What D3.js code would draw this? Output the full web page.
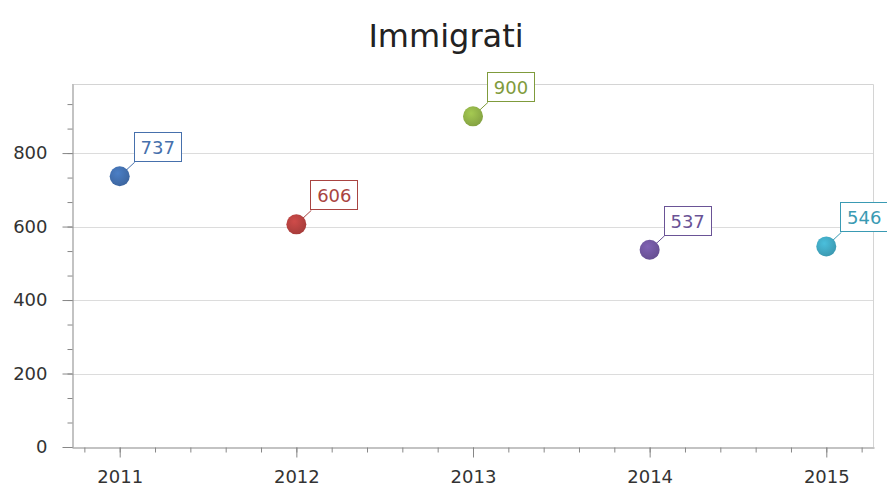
<!DOCTYPE html>
<html>
<head>
<meta charset="utf-8">
<script src="https://cdn.jsdelivr.net/npm/d3@7/dist/d3.min.js"></script>
<style>
  body { margin: 0; background: #fff; }
  svg { display: block; font-family: "DejaVu Sans", sans-serif; }
</style>
</head>
<body>
<div id="chart"></div>
<script>
var title = "Immigrati";
var years = [2011, 2012, 2013, 2014, 2015];
var values = [737, 606, 900, 537, 546];
var colors = ["#3f6aa6", "#ad3f3d", "#8aa945", "#6b5297", "#3ea0b8"];
var labelColors = ["#4670ac", "#a94441", "#7f9b3c", "#6a5396", "#3a9ab3"];
var yTicks = [0, 200, 400, 600, 800];

var width = 887, height = 490;
var pLeft = 72, pRight = 874, pTop = 84, pBottom = 447;

var svg = d3.select("#chart").append("svg")
    .attr("width", width)
    .attr("height", height);

var x = d3.scaleLinear().domain([2010.73, 2015.27]).range([pLeft, pRight]);
var y = d3.scaleLinear().domain([0, 988]).range([pBottom, pTop]);

// gradients for markers
var defs = svg.append("defs");
colors.forEach(function(c, i) {
    var g = defs.append("radialGradient")
        .attr("id", "grad" + i)
        .attr("cx", "40%").attr("cy", "35%").attr("r", "65%");
    g.append("stop").attr("offset", "0%").attr("stop-color", d3.color(c).brighter(0.5));
    g.append("stop").attr("offset", "100%").attr("stop-color", d3.color(c).darker(0.1));
});

// title
svg.append("text")
    .attr("x", 446)
    .attr("y", 47)
    .attr("text-anchor", "middle")
    .style("font-size", "32px")
    .style("fill", "#222")
    .text(title);

// grid
svg.append("g")
    .selectAll("line")
    .data(yTicks.filter(function(d) { return d > 0; }))
    .enter().append("line")
    .attr("x1", pLeft).attr("x2", pRight)
    .attr("y1", function(d) { return Math.round(y(d)) + 0.5; })
    .attr("y2", function(d) { return Math.round(y(d)) + 0.5; })
    .attr("stroke", "#dcdcdc");

// plot border top / right
svg.append("path")
    .attr("d", "M" + pLeft + "," + (pTop + 0.5) + "H" + (pRight - 0.5) + "V" + pBottom)
    .attr("fill", "none")
    .attr("stroke", "#d4d4d4");

// y axis
var yMinor = d3.range(0, 988, 200 / 3);
svg.append("g")
    .attr("transform", "translate(" + (pLeft + 0.5) + ",0)")
    .call(d3.axisLeft(y).tickValues(yMinor).tickSize(5).tickFormat(""))
    .call(function(g) { g.select(".domain").remove(); });
svg.append("g")
    .attr("class", "yaxis")
    .attr("transform", "translate(" + (pLeft + 0.5) + ",0)")
    .call(d3.axisLeft(y).tickValues(yTicks).tickSize(10).tickPadding(15).tickSizeOuter(0));

// x axis
var xMinor = d3.range(2010.8, 2015.27, 0.2);
svg.append("g")
    .attr("transform", "translate(0," + (pBottom + 0.5) + ")")
    .call(d3.axisBottom(x).tickValues(xMinor).tickSize(5).tickFormat(""))
    .call(function(g) { g.select(".domain").remove(); });
svg.append("g")
    .attr("class", "xaxis")
    .attr("transform", "translate(0," + (pBottom + 0.5) + ")")
    .call(d3.axisBottom(x).tickValues(years).tickSize(10).tickPadding(13).tickSizeOuter(0)
        .tickFormat(d3.format("d")));

svg.selectAll(".domain, .tick line").attr("stroke", "#878787");
svg.selectAll(".tick text")
    .style("font-size", "18px")
    .style("font-family", "DejaVu Sans, sans-serif")
    .attr("fill", "#333");

// points
var pts = svg.append("g")
    .selectAll("g")
    .data(years.map(function(d, i) { return { year: d, value: values[i], i: i }; }))
    .enter().append("g");

pts.append("line")
    .attr("x1", function(d) { return x(d.year); })
    .attr("y1", function(d) { return y(d.value); })
    .attr("x2", function(d) { return x(d.year) + 15; })
    .attr("y2", function(d) { return y(d.value) - 14; })
    .attr("stroke", function(d) { return labelColors[d.i]; })
    .attr("stroke-width", 1);

pts.append("circle")
    .attr("cx", function(d) { return x(d.year); })
    .attr("cy", function(d) { return y(d.value); })
    .attr("r", 10)
    .attr("fill", function(d) { return "url(#grad" + d.i + ")"; });

pts.append("rect")
    .attr("x", function(d) { return Math.round(x(d.year)) + 14.5; })
    .attr("y", function(d) { return Math.round(y(d.value)) - 43.5; })
    .attr("width", 47)
    .attr("height", 29)
    .attr("fill", "#fff")
    .attr("stroke", function(d) { return labelColors[d.i]; });

pts.append("text")
    .attr("x", function(d) { return x(d.year) + 38; })
    .attr("y", function(d) { return y(d.value) - 22; })
    .attr("text-anchor", "middle")
    .style("font-size", "18px")
    .attr("fill", function(d) { return labelColors[d.i]; })
    .text(function(d) { return d.value; });
</script>
</body>
</html>
